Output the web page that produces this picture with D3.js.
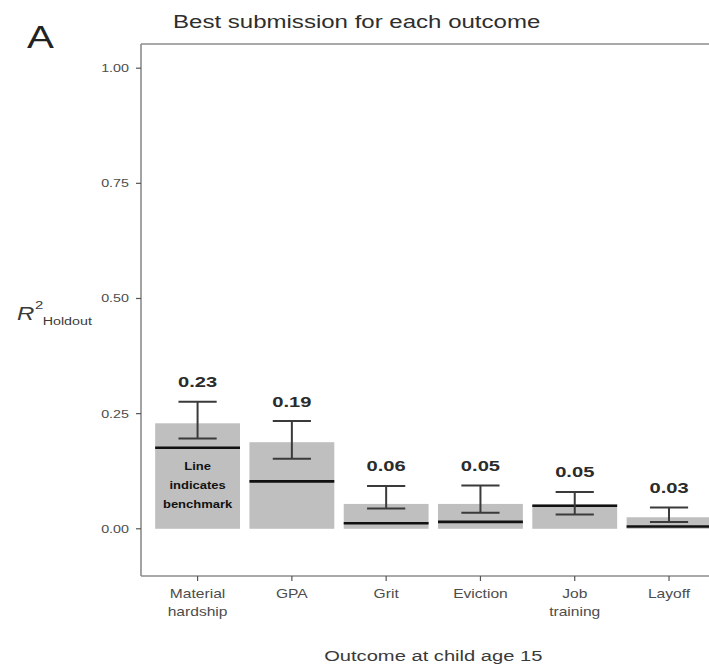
<!DOCTYPE html>
<html>
<head>
<meta charset="utf-8">
<script src="https://cdn.jsdelivr.net/npm/d3@7"></script>
<style>
  html, body { margin: 0; padding: 0; background: #fff; }
  svg { display: block; font-family: "Liberation Sans", Arial, sans-serif; }
</style>
</head>
<body>
<svg id="chart" width="709" height="664"></svg>
<script>
// ---- data ----
const categories = ["Material hardship", "GPA", "Grit", "Eviction", "Job training", "Layoff"];
const categoryLines = [["Material", "hardship"], ["GPA"], ["Grit"], ["Eviction"], ["Job", "training"], ["Layoff"]];
const bestR2 = [0.229, 0.188, 0.054, 0.054, 0.053, 0.025];
const valueLabels = ["0.23", "0.19", "0.06", "0.05", "0.05", "0.03"];
const benchmark = [0.176, 0.103, 0.012, 0.015, 0.050, 0.005];
const errLower = [0.196, 0.152, 0.044, 0.035, 0.031, 0.015];
const errUpper = [0.276, 0.234, 0.093, 0.094, 0.080, 0.046];
const yTicks = [0, 0.25, 0.5, 0.75, 1.0];
const yTickLabels = ["0.00", "0.25", "0.50", "0.75", "1.00"];
const noteLines = ["Line", "indicates", "benchmark"];

(function () {
// ---- layout ----
const svg = d3.select("#chart");
const SX = 1.3; // horizontal text stretch seen in the reference
const pLeft = 141, pRight = 725.6, pTop = 44, pBottom = 576;

const x = d3.scaleBand().domain(categories).range([pLeft, pRight])
  .paddingInner(0.1).paddingOuter(0.15);
const y = d3.scaleLinear().domain([-0.1025, 1.0525]).range([pBottom, pTop]);

function stretchedText(g, tx, ty, anchor) {
  return g.append("text")
    .attr("transform", `translate(${tx},${ty}) scale(${SX},1)`)
    .attr("text-anchor", anchor);
}

const data = categories.map((c, i) => ({
  c, v: bestR2[i], lab: valueLabels[i], b: benchmark[i], lo: errLower[i], hi: errUpper[i], lines: categoryLines[i]
}));

// bars
svg.append("g").selectAll("rect").data(data).join("rect")
  .attr("x", d => x(d.c))
  .attr("width", x.bandwidth())
  .attr("y", d => y(d.v))
  .attr("height", d => y(0) - y(d.v))
  .attr("fill", "#bfbfbf");

// benchmark lines
svg.append("g").selectAll("line").data(data).join("line")
  .attr("x1", d => x(d.c))
  .attr("x2", d => x(d.c) + x.bandwidth())
  .attr("y1", d => y(d.b)).attr("y2", d => y(d.b))
  .attr("stroke", "#111").attr("stroke-width", 2.6);

// error bars
const capW = x.bandwidth() * 0.45;
const eb = svg.append("g").attr("stroke", "#3a3a3a").attr("stroke-width", 2);
data.forEach(d => {
  const cx = x(d.c) + x.bandwidth() / 2;
  eb.append("line").attr("x1", cx).attr("x2", cx).attr("y1", y(d.lo)).attr("y2", y(d.hi));
  eb.append("line").attr("x1", cx - capW / 2).attr("x2", cx + capW / 2).attr("y1", y(d.lo)).attr("y2", y(d.lo));
  eb.append("line").attr("x1", cx - capW / 2).attr("x2", cx + capW / 2).attr("y1", y(d.hi)).attr("y2", y(d.hi));
});

// value labels
const vl = svg.append("g");
data.forEach(d => {
  const cx = x(d.c) + x.bandwidth() / 2;
  stretchedText(vl, cx, y(d.hi) - 14.5, "middle")
    .attr("font-size", 15.5).attr("font-weight", "bold").attr("fill", "#2b2b2b")
    .text(d.lab);
});

// note inside first bar
const note = svg.append("g");
const firstCx = x(categories[0]) + x.bandwidth() / 2;
noteLines.forEach((t, i) => {
  stretchedText(note, firstCx, 470 + i * 19, "middle")
    .attr("font-size", 10).attr("font-weight", "bold").attr("fill", "#111")
    .text(t);
});

// axes / panel border
const axisCol = "#8c8c8c";
svg.append("line").attr("x1", pLeft).attr("x2", pLeft).attr("y1", pTop).attr("y2", pBottom)
  .attr("stroke", axisCol).attr("stroke-width", 1.6);
svg.append("line").attr("x1", pLeft).attr("x2", pRight).attr("y1", pBottom).attr("y2", pBottom)
  .attr("stroke", axisCol).attr("stroke-width", 1.6);
svg.append("line").attr("x1", pLeft).attr("x2", pRight).attr("y1", pTop).attr("y2", pTop)
  .attr("stroke", axisCol).attr("stroke-width", 1.6);
svg.append("line").attr("x1", pRight).attr("x2", pRight).attr("y1", pTop).attr("y2", pBottom)
  .attr("stroke", axisCol).attr("stroke-width", 1.6);

// y ticks
const yAxisG = svg.append("g");
yTicks.forEach((t, i) => {
  yAxisG.append("line").attr("x1", pLeft - 5).attr("x2", pLeft).attr("y1", y(t)).attr("y2", y(t))
    .attr("stroke", "#555").attr("stroke-width", 1.2);
  stretchedText(yAxisG, pLeft - 12, y(t) + 4, "end")
    .attr("font-size", 11).attr("fill", "#4d4d4d").text(yTickLabels[i]);
});

// x ticks
const xAxisG = svg.append("g");
data.forEach(d => {
  const cx = x(d.c) + x.bandwidth() / 2;
  xAxisG.append("line").attr("x1", cx).attr("x2", cx).attr("y1", pBottom).attr("y2", pBottom + 5)
    .attr("stroke", "#555").attr("stroke-width", 1.2);
  d.lines.forEach((ln, j) => {
    stretchedText(xAxisG, cx, 597.5 + j * 18.5, "middle")
      .attr("font-size", 12).attr("fill", "#4d4d4d").text(ln);
  });
});

// axis titles
stretchedText(svg, (pLeft + pRight) / 2, 661, "middle")
  .attr("font-size", 15.5).attr("fill", "#3a3a3a").text("Outcome at child age 15");

const yl = stretchedText(svg, 17, 320, "start").attr("fill", "#3a3a3a");
yl.append("tspan").attr("font-size", 18.5).attr("font-style", "italic").text("R");
yl.append("tspan").attr("font-size", 11.5).attr("dy", -11).attr("dx", 0.5).text("2");
yl.append("tspan").attr("font-size", 11).attr("dy", 16).attr("dx", -0.5).text("Holdout");

// title and panel letter
stretchedText(svg, 173, 28, "start")
  .attr("font-size", 18.5).attr("fill", "#2e2e2e").text("Best submission for each outcome");
stretchedText(svg, 27, 48, "start")
  .attr("font-size", 31).attr("fill", "#222").text("A");
})();
</script>
</body>
</html>
